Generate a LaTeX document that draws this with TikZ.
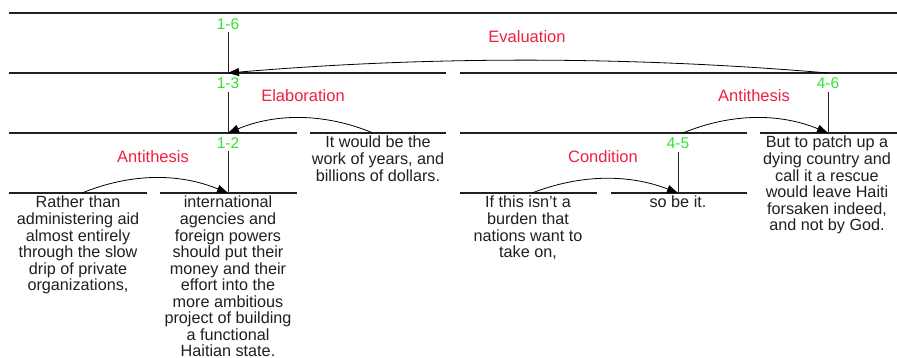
\documentclass[tikz,border=0pt]{standalone}
\usepackage{fontspec}
\setmainfont{Liberation Sans}
\usetikzlibrary{arrows.meta}
\definecolor{relred}{RGB}{240,32,64}
\definecolor{spangreen}{RGB}{48,228,48}
\definecolor{ink}{RGB}{32,32,32}
% centred multi-line text whose baseline is the first line
\newcommand\seglines[1]{\begin{tabular}[t]{@{}c@{}}#1\end{tabular}}

\begin{document}
\begin{tikzpicture}[x=1pt,y=-1pt,
  spanline/.style={line width=1.1pt, draw=ink},
  stem/.style={line width=1pt, draw=ink},
  relarc/.style={line width=0.8pt, draw=black, -{Triangle[length=11pt,width=8pt]}},
  rellabel/.style={anchor=base, inner sep=0pt, text=relred, font=\fontsize{16.5}{18}\selectfont},
  spanlabel/.style={anchor=base, inner sep=0pt, outer ysep=2.5pt, text=spangreen, font=\fontsize{15.5}{17}\selectfont},
  segtext/.style={anchor=base, inner sep=0pt, text=ink, font=\fontsize{16.2}{16}\selectfont},
]
\useasboundingbox[fill=white] (0,0) rectangle (897,358);

% ---- span lines (top of every span / segment)
\draw[spanline] (9,13) -- (897,13);                 % 1-6
\draw[spanline] (9,73) -- (446,73);                 % 1-3
\draw[spanline] (460,73) -- (897,73);               % 4-6
\draw[spanline] (9,133) -- (297,133);               % 1-2
\draw[spanline] (310,133) -- (446,133);             % 3
\draw[spanline] (460,133) -- (747,133);             % 4-5
\draw[spanline] (760,133) -- (897,133);             % 6
\draw[spanline] (9,193) -- (147,193);               % 1
\draw[spanline] (160,193) -- (297,193);             % 2
\draw[spanline] (460,193) -- (597,193);             % 4
\draw[spanline] (611,193) -- (747,193);             % 5

% ---- attachment points on the span lines
\coordinate (top13) at (228,73);
\coordinate (top46) at (828,73);
\coordinate (top12) at (228,133);
\coordinate (top3)  at (373,133);
\coordinate (top45) at (683,133);
\coordinate (top6)  at (828,133);
\coordinate (top1)  at (82,193);
\coordinate (top2)  at (228,193);
\coordinate (top4)  at (532,193);
\coordinate (top5)  at (678,193);

% ---- span labels and stems to the nucleus
\node[spanlabel] (n16) at (228,29.5) {1-6};
\node[spanlabel] (n13) at (228,89) {1-3};
\node[spanlabel] (n12) at (228,149) {1-2};
\node[spanlabel] (n46) at (828,89) {4-6};
\node[spanlabel] (n45) at (678,149) {4-5};
\draw[stem] (n16.south) -- (top13);
\draw[stem] (n13.south) -- (top12);
\draw[stem] (n12.south) -- (top2);
\draw[stem] (n46.south) -- (top6);
\draw[stem] (n45.south) -- (top5);

% ---- relation arcs (satellite -> nucleus)
\draw[relarc] (top46) .. controls +(-200,-17) and +(200,-17) .. (top13);
\draw[relarc] (top3)  .. controls +(-48,-20) and +(48,-20) .. (top12);
\draw[relarc] (top1)  .. controls +(49,-20) and +(-49,-20) .. (top2);
\draw[relarc] (top4)  .. controls +(49,-19) and +(-49,-19) .. (top5);
\draw[relarc] (top45) .. controls +(48,-20) and +(-48,-20) .. (top6);

% ---- relation names
\node[rellabel] (rEval)  at (527,43)  {Evaluation};
\node[rellabel] (rElab)  at (303,102) {Elaboration};
\node[rellabel] (rAnti1) at (153,163) {Antithesis};
\node[rellabel] (rCond)  at (603,163) {Condition};
\node[rellabel] (rAnti2) at (754,102) {Antithesis};

% ---- elementary discourse units
\node[segtext] (t1) at (78,208) {\seglines{Rather than\\administering aid\\almost entirely\\through the slow\\drip of private\\organizations,}};
\node[segtext] (t2) at (228,208) {\seglines{international\\agencies and\\foreign powers\\should put their\\money and their\\effort into the\\more ambitious\\project of building\\a functional\\Haitian state.}};
\node[segtext] (t3) at (378,148) {\seglines{It would be the\\work of years, and\\billions of dollars.}};
\node[segtext] (t4) at (528,208) {\seglines{If this isn't a\\burden that\\nations want to\\take on,}};
\node[segtext] (t5) at (678,208) {\seglines{so be it.}};
\node[segtext] (t6) at (827,148) {\seglines{But to patch up a\\dying country and\\call it a rescue\\would leave Haiti\\forsaken indeed,\\and not by God.}};
\end{tikzpicture}
\end{document}
